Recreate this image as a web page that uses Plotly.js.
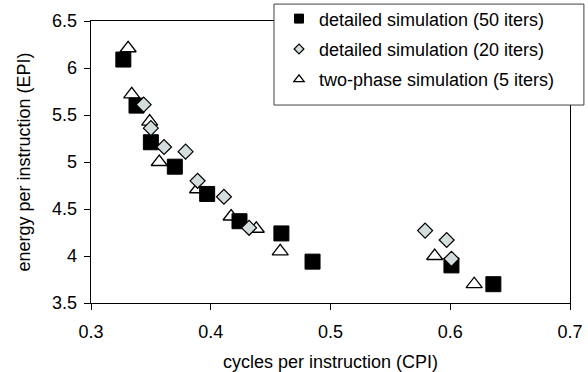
<!DOCTYPE html>
<html>
<head>
<meta charset="utf-8">
<script src="https://cdn.plot.ly/plotly-3.0.1.min.js"></script>
<style>html,body{margin:0;padding:0;background:#fff;}#chart{width:588px;height:372px;}</style>
</head>
<body>
<div id="chart"></div>
<script>
// Detailed simulation (50 iters)
var cpi50 = [0.327, 0.338, 0.350, 0.370, 0.397, 0.424, 0.459, 0.485, 0.601, 0.636];
var epi50 = [6.09, 5.60, 5.21, 4.95, 4.66, 4.37, 4.24, 3.94, 3.90, 3.70];
// Detailed simulation (20 iters)
var cpi20 = [0.344, 0.350, 0.361, 0.379, 0.389, 0.411, 0.432, 0.579, 0.597, 0.601];
var epi20 = [5.61, 5.36, 5.16, 5.11, 4.80, 4.63, 4.30, 4.27, 4.17, 3.97];
// Two-phase simulation (5 iters)
var cpi5 = [0.331, 0.334, 0.349, 0.357, 0.389, 0.417, 0.438, 0.458, 0.587, 0.620];
var epi5 = [6.21, 5.72, 5.43, 5.00, 4.71, 4.42, 4.29, 4.05, 4.00, 3.70];

var names = ['detailed simulation (50 iters)', 'detailed simulation (20 iters)', 'two-phase simulation (5 iters)'];
var xTicks = [0.3, 0.4, 0.5, 0.6, 0.7];
var yTicks = [3.5, 4, 4.5, 5, 5.5, 6, 6.5];

var sqStyle = {symbol: 'square', color: '#000000', line: {color: '#000000', width: 1}};
var diStyle = {symbol: 'diamond', color: '#d3dddd', line: {color: '#000000', width: 1.2}};
var trStyle = {symbol: 'triangle-up', color: '#ffffff', line: {color: '#000000', width: 1.3}};

function mk(style, size) {
  return {symbol: style.symbol, color: style.color, size: size, line: style.line};
}

var data = [
  {x: cpi5, y: epi5, type: 'scatter', mode: 'markers', showlegend: false, marker: mk(trStyle, 14), hoverinfo: 'x+y'},
  {x: cpi50, y: epi50, type: 'scatter', mode: 'markers', showlegend: false, marker: mk(sqStyle, 15), hoverinfo: 'x+y'},
  {x: cpi20, y: epi20, type: 'scatter', mode: 'markers', showlegend: false, marker: mk(diStyle, 11.5), hoverinfo: 'x+y'},
  // legend entries (small markers, as in the reference legend)
  {x: [null], y: [null], type: 'scatter', mode: 'markers', name: names[0], legendgroup: 'a', marker: mk(sqStyle, 9)},
  {x: [null], y: [null], type: 'scatter', mode: 'markers', name: names[1], legendgroup: 'b', marker: mk(diStyle, 7.5)},
  {x: [null], y: [null], type: 'scatter', mode: 'markers', name: names[2], legendgroup: 'c', marker: mk(trStyle, 9)}
];

var font = '"Liberation Sans", Arial, sans-serif';
var layout = {
  width: 588, height: 372,
  margin: {l: 91, r: 18, t: 21, b: 69, pad: 0, autoexpand: false},
  paper_bgcolor: '#ffffff', plot_bgcolor: '#ffffff',
  font: {family: font, size: 18, color: '#000000'},
  showlegend: true,
  legend: {
    x: 0.3925, y: 1.073, xanchor: 'left', yanchor: 'top',
    bgcolor: 'rgba(0,0,0,0)', borderwidth: 0,
    font: {family: font, size: 18, color: '#000000'},
    tracegroupgap: 4, itemclick: false
  },
  shapes: [{
    type: 'rect', xref: 'paper', yref: 'paper', layer: 'above',
    x0: 0.382, x1: 1.029, y0: 0.702, y1: 1.060,
    fillcolor: '#ffffff', line: {color: '#404040', width: 1}
  }],
  xaxis: {
    range: [0.3, 0.7], tickvals: xTicks, ticktext: xTicks.map(String),
    showgrid: false, zeroline: false, showline: true, linecolor: '#000000', linewidth: 1.3,
    mirror: true, ticks: 'outside', ticklen: 6, tickcolor: '#000000', tickwidth: 1,
    tickfont: {family: font, size: 18}, automargin: false, ticklabelstandoff: 6,
    title: {text: 'cycles per instruction (CPI)', font: {family: font, size: 18}, standoff: 15}
  },
  yaxis: {
    range: [3.5, 6.5], tickvals: yTicks, ticktext: yTicks.map(String),
    showgrid: false, zeroline: false, showline: true, linecolor: '#000000', linewidth: 1.3,
    mirror: true, ticks: 'outside', ticklen: 6, tickcolor: '#000000', tickwidth: 1,
    tickfont: {family: font, size: 18}, automargin: false, ticklabelstandoff: 3,
    title: {text: 'energy per instruction (EPI)', font: {family: font, size: 18}, standoff: 16}
  }
};

Plotly.newPlot('chart', data, layout, {displayModeBar: false, staticPlot: true});
</script>
</body>
</html>
